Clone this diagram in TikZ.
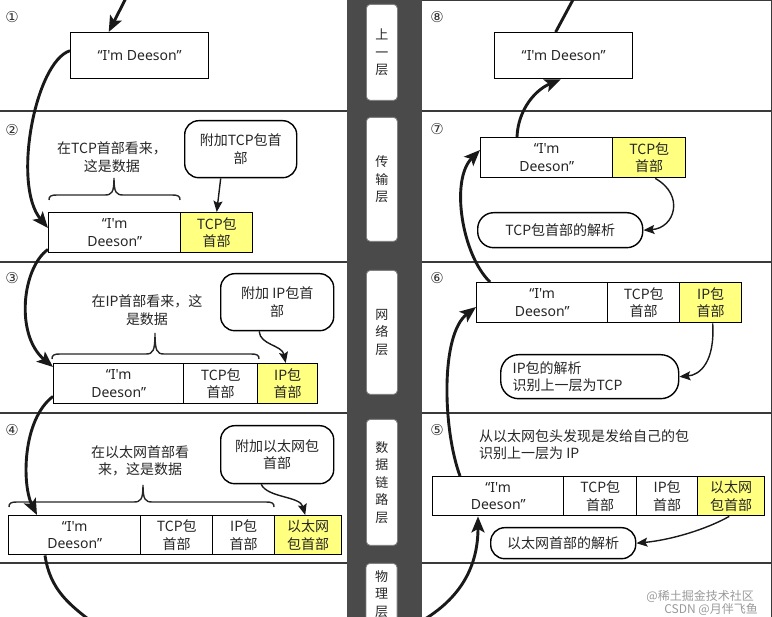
\documentclass[tikz,border=0pt]{standalone}
\usepackage{fontspec}
\setmainfont{Noto Sans CJK SC}
\newfontfamily\latinf{Noto Sans}
\newfontfamily\symf{DejaVu Sans}
\usetikzlibrary{arrows.meta}
\definecolor{hdryellow}{HTML}{FFFF80}
\definecolor{bargray}{HTML}{4A4A4A}
\definecolor{sepgray}{HTML}{3A3A3A}
\newcommand{\dsbrace}[5]{% x1, x2, xm, yend, ytip
  \draw[bracestyle] (#1,#4) .. controls (#1,#4-4) and (#1+2,#4-5) .. (#1+8,#4-5) -- (#3-9,#4-5) .. controls (#3-2,#4-5) and (#3,#4-8) .. (#3,#5) .. controls (#3,#4-8) and (#3+2,#4-5) .. (#3+9,#4-5) -- (#2-8,#4-5) .. controls (#2-2,#4-5) and (#2,#4-4) .. (#2,#4);}
\newcommand{\qdee}{{\latinf “I'm Deeson”}}
\newcommand{\qdeetwo}{{\latinf “I'm}\\{\latinf Deeson”}}
\begin{document}
\begin{tikzpicture}[x=1pt,y=-1pt,
  every node/.style={font=\fontsize{14}{17.5}\selectfont, text=black!85},
  cell/.style={draw=black, line width=1.4pt, anchor=north west, inner sep=0pt, align=center, fill=white},
  ycell/.style={cell, fill=hdryellow},
  callout/.style={draw=black, line width=1.4pt, rounded corners=14pt, anchor=north west, inner sep=0pt, align=center, fill=white},
  big/.style={line width=2.9pt, draw=black!90, -{Stealth[length=16pt,width=13pt,inset=3.5pt]}},
  bignotip/.style={line width=2.9pt, draw=black!90},
  small/.style={line width=1.4pt, draw=black!90, -{Stealth[length=11pt,width=9pt,inset=2pt]}},
  bracestyle/.style={line width=1.4pt, draw=black!85},
  num/.style={font=\symf\fontsize{15}{15}\selectfont, text=black!80},
  sep/.style={draw=sepgray, line width=1.8pt},
  layerbox/.style={draw=black!50, line width=0.8pt, fill=white, rounded corners=4pt, anchor=north west, inner sep=0pt, align=center, minimum width=31pt, font=\fontsize{13}{17.5}\selectfont},
  note/.style={align=center, inner sep=0pt},
  wmark/.style={text=black!40, font=\fontsize{12}{13}\selectfont, anchor=east, inner sep=0pt}
]
\useasboundingbox (0,0) rectangle (772,617);
% central bar
\fill[bargray] (347,-2) rectangle (422,619);
% separators
\foreach \yy in {111,262,413,563} {
  \draw[sep] (0,\yy) -- (347,\yy);
  \draw[sep] (422,\yy) -- (772,\yy);
}
\draw[sep, line width=1.2pt] (422,0.6) -- (772,0.6);
\draw[sep, line width=1.4pt] (771.3,0) -- (771.3,617);
% layer labels
\node[layerbox, minimum height=96pt] (L1) at (366,4) {上\\一\\层};
\node[layerbox, minimum height=124pt] (L2) at (366,117) {传\\输\\层};
\node[layerbox, minimum height=124pt] (L3) at (366,270) {网\\络\\层};
\node[layerbox, minimum height=126pt] (L4) at (366,419) {数\\据\\链\\路\\层};
\node[layerbox, minimum height=90pt, anchor=north] (L5) at (381.5,563) {};
\node[font=\fontsize{13}{17.5}\selectfont, align=center, anchor=north, inner sep=0pt] (L5t) at (381.5,570) {物\\理\\层};
% step numbers
\node[num] (s1) at (12,17) {①};
\node[num] (s2) at (12,130) {②};
\node[num] (s3) at (12,278) {③};
\node[num] (s4) at (12,430) {④};
\node[num] (s8) at (437,17) {⑧};
\node[num] (s7) at (437,129) {⑦};
\node[num] (s6) at (437,278) {⑥};
\node[num] (s5) at (437,430) {⑤};
% ---------- left column ----------
\node[cell, minimum width=138pt, minimum height=46pt] (n1) at (70,32) {\qdee};
% 2
\node[cell, minimum width=132pt, minimum height=40pt] (d2) at (48,212) {\qdeetwo};
\node[ycell, minimum width=72pt, minimum height=40pt] (t2) at (180,212) {TCP包\\首部};
\node[callout, minimum width=112pt, minimum height=57pt] (c2) at (184,120) {附加TCP包首\\部};
\node[note] (l2) at (112,157) {在TCP首部看来，\\这是数据};
\dsbrace{49}{180}{114}{200}{178}
% 3
\node[cell, minimum width=130pt, minimum height=40pt] (d3) at (53,363) {\qdeetwo};
\node[cell, minimum width=74pt, minimum height=40pt] (t3) at (183,363) {TCP包\\首部};
\node[ycell, minimum width=60pt, minimum height=40pt] (i3) at (257,363) {IP包\\首部};
\node[callout, minimum width=113pt, minimum height=57pt] (c3) at (220,273) {附加 IP包首\\部};
\node[note] (l3) at (147,310) {在IP首部看来，这\\是数据};
\dsbrace{52}{259}{155}{359}{333}
% 4
\node[cell, minimum width=132pt, minimum height=39pt] (d4) at (8,515) {\qdeetwo};
\node[cell, minimum width=72pt, minimum height=39pt] (t4) at (140,515) {TCP包\\首部};
\node[cell, minimum width=62pt, minimum height=39pt] (i4) at (212,515) {IP包\\首部};
\node[ycell, minimum width=67pt, minimum height=39pt] (e4) at (274,515) {以太网\\包首部};
\node[callout, minimum width=113pt, minimum height=58pt] (c4) at (220,425) {附加以太网包\\首部};
\node[note] (l4) at (140,461) {在以太网首部看\\来，这是数据};
\dsbrace{9}{274}{143}{507}{485}
% ---------- right column ----------
\node[cell, minimum width=138pt, minimum height=46pt] (r8) at (494,32) {\qdee};
% 7
\node[cell, minimum width=132pt, minimum height=40pt] (d7) at (480,137) {\qdeetwo};
\node[ycell, minimum width=73pt, minimum height=40pt] (t7) at (612,137) {TCP包\\首部};
\node[callout, minimum width=165pt, minimum height=35pt, rounded corners=16pt] (p7) at (477,212) {TCP包首部的解析};
% 6
\node[cell, minimum width=131pt, minimum height=40pt] (d6) at (476,282) {\qdeetwo};
\node[cell, minimum width=72pt, minimum height=40pt] (t6) at (607,282) {TCP包\\首部};
\node[ycell, minimum width=62pt, minimum height=40pt] (i6) at (679,282) {IP包\\首部};
\node[callout, minimum height=44pt, text width=154pt, inner xsep=12pt, align=left, rounded corners=18pt] (p6) at (500,354) {IP包的解析\\识别上一层为TCP};
% 5
\node[note, align=left, anchor=north west] (l5) at (479,429) {从以太网包头发现是发给自己的包\\识别上一层为 IP};
\node[cell, minimum width=131pt, minimum height=39pt] (d5) at (432,476) {\qdeetwo};
\node[cell, minimum width=73pt, minimum height=39pt] (t5) at (563,476) {TCP包\\首部};
\node[cell, minimum width=61pt, minimum height=39pt] (i5) at (636,476) {IP包\\首部};
\node[ycell, minimum width=67pt, minimum height=39pt] (e5) at (697,476) {以太网\\包首部};
\node[callout, minimum width=145pt, minimum height=31pt, rounded corners=14pt] (p5) at (490,527) {以太网首部的解析};
% watermark
\node[wmark] (w1) at (754,596) {@稀土掘金技术社区};
\node[wmark] (w2) at (758,609) {CSDN @月伴飞鱼};
% ---------- connectors ----------
\coordinate (top1) at (127,-4);
\coordinate (bl) at (92,622);
\coordinate (br) at (420,622);
\coordinate (top8) at (575,-4);
\draw[big] (top1) -- ([xshift=-31pt]n1.north);
\draw[big] ([yshift=5pt]n1.west) .. controls (35,62) and (12,185) .. ([yshift=-16pt]d2.north west);
\draw[big] ([yshift=4pt]d2.south west) .. controls (22,268) and (15,335) .. ([yshift=-4pt]d3.north west);
\draw[big] ([yshift=8pt]d3.south west) .. controls (22,420) and (22,485) .. ([xshift=29pt]d4.north west);
\draw[bignotip] ([xshift=37pt]d4.south west) .. controls (50,590) and (70,605) .. (bl);
\draw[big] (br) .. controls (462,598) and (478,565) .. ([xshift=46pt]d5.south west);
\draw[big] ([xshift=28pt]d5.north west) .. controls (443,430) and (440,335) .. ([yshift=-25pt]d6.north west);
\draw[big] ([xshift=14pt]d6.north west) .. controls (462,255) and (450,180) .. ([yshift=-13pt]d7.north west);
\draw[big] ([xshift=37pt]d7.north west) .. controls (518,110) and (535,90) .. ([xshift=-3pt]r8.south);
\draw[bignotip] ([xshift=-8pt]r8.north) -- (top8);
% callout arrows
\draw[small] ([xshift=-20pt]c2.south) -- (t2.north);
\draw[small] ([xshift=-18pt]c3.south) .. controls (260,345) and (282,345) .. ([xshift=-2pt]i3.north);
\draw[small] ([xshift=-16pt]c4.south) .. controls (268,498) and (300,496) .. ([xshift=-3pt]e4.north);
\draw[small] ([xshift=6pt]t7.south) .. controls (685,195) and (675,228) .. (p7.east);
\draw[small] ([xshift=2pt]i6.south) .. controls (715,362) and (700,375) .. (p6.east);
\draw[small] ([xshift=-2pt]e5.south) .. controls (705,530) and (670,540) .. (p5.east);
\end{tikzpicture}
\end{document}
